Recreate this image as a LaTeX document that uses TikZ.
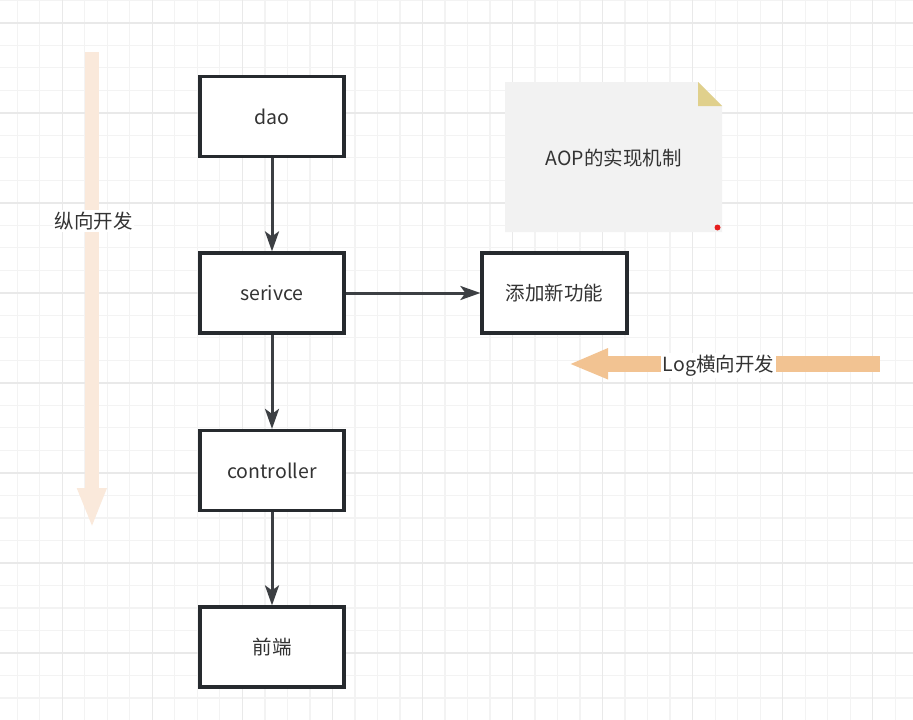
\documentclass[tikz,border=0pt]{standalone}
\usepackage{fontspec}
\setmainfont{Noto Sans CJK SC}
\usetikzlibrary{arrows.meta}
\definecolor{gridminor}{RGB}{243,243,243}
\definecolor{gridmajor}{RGB}{233,233,233}
\definecolor{ink}{RGB}{51,51,51}
\definecolor{boxline}{RGB}{38,42,46}
\definecolor{peachlight}{RGB}{250,233,219}
\definecolor{peach}{RGB}{242,195,146}
\definecolor{notefill}{RGB}{242,242,242}
\definecolor{notefold}{RGB}{224,208,140}
\definecolor{reddot}{RGB}{230,30,30}
\tikzset{
  txt/.style={text=ink, font=\fontsize{19.5}{23}\selectfont},
  stepbox/.style={txt, draw=boxline, line width=3.2pt, fill=white, minimum width=144pt, minimum height=80pt},
  flow/.style={draw=boxline!90!white, line width=3pt, -{Stealth[length=20pt,width=14pt,inset=5pt]}},
  lbl/.style={txt, fill=white, inner sep=1.5pt},
  minorline/.style={draw=gridminor, line width=1.2pt},
  majorline/.style={draw=gridmajor, line width=1.6pt},
}
\begin{document}
\begin{tikzpicture}[x=1pt,y=-1pt]
\fill[white] (0,0) rectangle (913,720);
\useasboundingbox (0,0) rectangle (913,720);
\begin{scope}
\clip (0,0) rectangle (913,720);
\foreach \k in {0,...,40} \draw[minorline] ({17.3+22.51*\k},0) -- ({17.3+22.51*\k},720);
\foreach \k in {0,...,32} \draw[minorline] (0,{0.19+22.51*\k}) -- (913,{0.19+22.51*\k});
\foreach \k in {0,...,9} \draw[majorline] ({62.3+90.04*\k},0) -- ({62.3+90.04*\k},720);
\foreach \k in {0,...,7} \draw[majorline] (0,{22.7+90.04*\k}) -- (913,{22.7+90.04*\k});
\end{scope}

% vertical development arrow
\fill[peachlight] (85,52) rectangle (99,488.5);
\fill[peachlight] (76.7,488) -- (107,488) -- (92,525.7) -- cycle;
\node[lbl] (vlabel) at (93.5,221) {纵向开发};

% horizontal development arrow
\fill[peach] (607.5,356) rectangle (880,372);
\fill[peach] (608,348) -- (608,379.5) -- (570.7,364) -- cycle;
\node[lbl] (hlabel) at (718.5,365.5) {Log横向开发};

% note
\fill[notefill] (505,82) -- (698,82) -- (722,106) -- (722,232) -- (505,232) -- cycle;
\fill[notefold] (698,82) -- (698,106) -- (722,106) -- cycle;
\fill[reddot] (717.5,227.5) circle (3);
\node[txt] (note) at (613.5,158) {AOP的实现机制};

% boxes
\node[stepbox] (dao) at (272,116.5) {dao};
\node[stepbox] (serivce) at (272,293) {serivce};
\node[stepbox] (controller) at (272,470.5) {controller};
\node[stepbox] (front) at (272,647) {前端};
\node[stepbox, minimum width=145pt] (feature) at (554.5,293) {添加新功能};

\draw[flow] (dao) -- (serivce);
\draw[flow] (serivce) -- (controller);
\draw[flow] (controller) -- (front);
\draw[flow] (serivce) -- (feature);
\end{tikzpicture}
\end{document}
